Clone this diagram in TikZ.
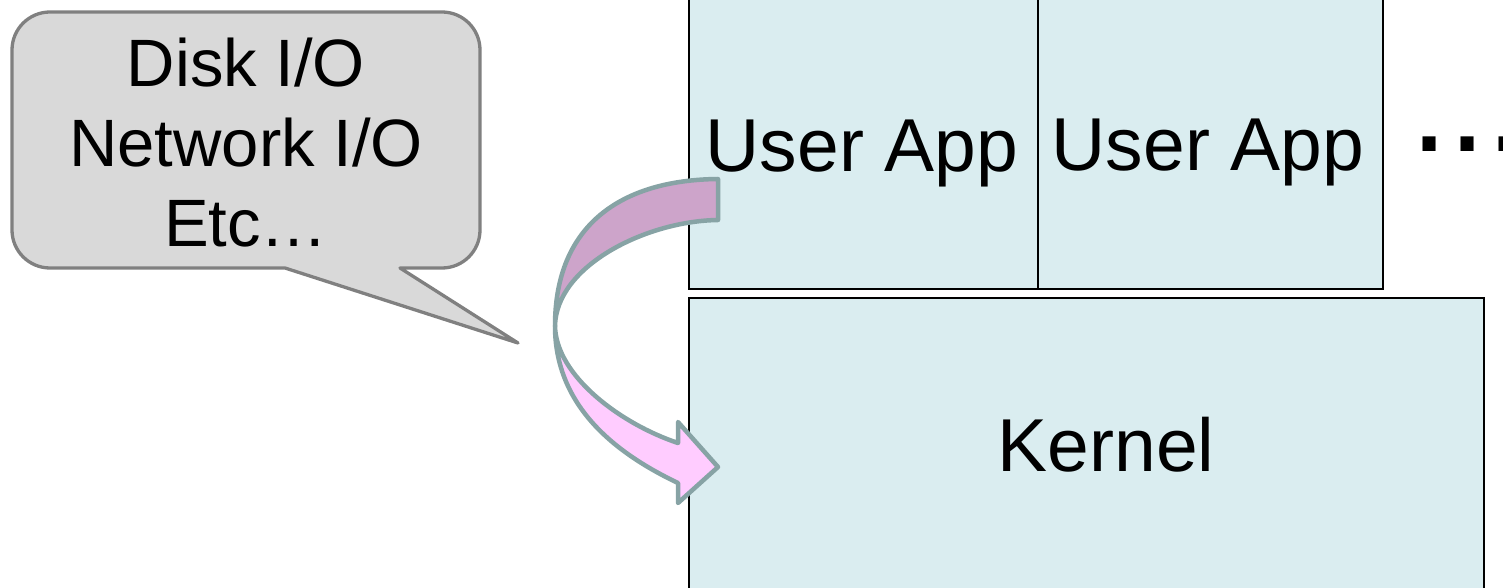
\documentclass[tikz,border=0pt]{standalone}
\usepackage{fontspec}
\setmainfont{Liberation Sans}
\definecolor{boxfill}{HTML}{DAEDF0}
\definecolor{calloutfill}{HTML}{D9D9D9}
\definecolor{calloutline}{HTML}{808080}
\definecolor{arrowline}{HTML}{87A3A5}
\definecolor{backband}{HTML}{CDA4CA}
\definecolor{frontband}{HTML}{FFCCFF}
\begin{document}
\begin{tikzpicture}[x=1pt,y=1pt,
  layerbox/.style={draw=black, fill=boxfill, line width=2pt},
  boxlabel/.style={inner sep=0pt, anchor=base, font=\fontsize{75}{90}\selectfont},
  bubblelabel/.style={inner sep=0pt, anchor=base, font=\fontsize{67}{80}\selectfont},
  bubble/.style={draw=calloutline, fill=calloutfill, line width=3.3pt, line join=round},
  bandstyle/.style={draw=arrowline, line width=4.5pt, line join=round}]
\useasboundingbox (0,0) rectangle (1503,587);

% user space and kernel layers
\path[layerbox] (689,298.5) rectangle (1383,587.5);
\draw[line width=1.3pt] (1038,298.5) -- (1038,587.5);
\path[layerbox] (689,289) rectangle (1484,-5);

\node[boxlabel] (app1) at (862,415) {User App};
\node[boxlabel] (app2) at (1208,416) {User App};
\node[boxlabel] (kernel) at (1106,116) {Kernel};
\node[inner sep=0pt, anchor=base west, font=\fontsize{137}{137}\selectfont] (more) at (1410,435) {...};

% speech bubble
\path[bubble] (400,319) -- (442,319)
  arc[start angle=270, end angle=360, radius=38] -- (480,537)
  arc[start angle=0, end angle=90, radius=38] -- (50,575)
  arc[start angle=90, end angle=180, radius=38] -- (12,357)
  arc[start angle=180, end angle=270, radius=38] -- (285,319)
  -- (518,244) -- cycle;
\node[bubblelabel] (disk) at (246,500) {Disk I/O};
\node[bubblelabel] (net) at (246,420) {Network I/O};
\node[bubblelabel] (etc) at (246,340) {Etc…};

% curved block arrow from user space down into the kernel
\coordinate (bend) at (555,261);
\path[bandstyle, fill=backband] (718,408)
  .. controls (621,407) and (555,362) .. (bend)
  .. controls (556,321) and (646,366) .. (718,367) -- cycle;
\path[bandstyle, fill=frontband] (bend)
  .. controls (555,181) and (615,134) .. (678,104)
  -- (678,84) -- (718,120) -- (678,165) -- (678,144)
  .. controls (621,163) and (556,211) .. (bend) -- cycle;
\end{tikzpicture}
\end{document}
